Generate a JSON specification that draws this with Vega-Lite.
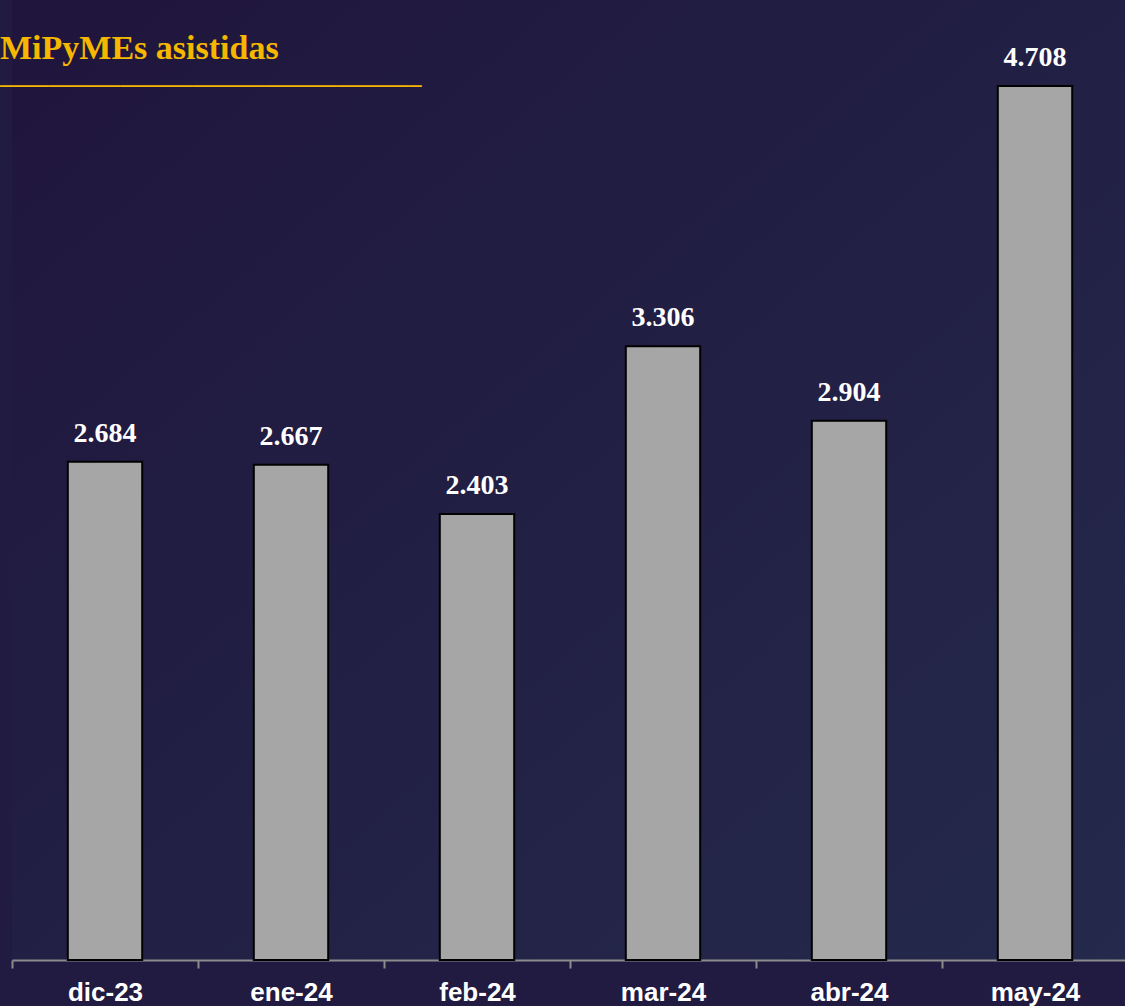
{
  "$schema": "https://vega.github.io/schema/vega-lite/v6.json",
  "width": 1116,
  "height": 960,
  "autosize": {"type": "none"},
  "padding": {"left": 12, "top": 0, "right": 0, "bottom": 46},
  "background": "#211a41",
  "title": {
    "text": "MiPyMEs asistidas",
    "subtitle": "───────────────────────────────────",
    "anchor": "start",
    "frame": "group",
    "dx": -12,
    "offset": -97,
    "font": "Liberation Serif",
    "fontSize": 34,
    "fontWeight": "bold",
    "color": "#f5b700",
    "subtitleColor": "#f5b700",
    "subtitleFont": "DejaVu Sans",
    "subtitleFontSize": 20,
    "subtitlePadding": 11
  },
  "data": {
    "values": [
      {"mes": "dic-23", "valor": 2684},
      {"mes": "ene-24", "valor": 2667},
      {"mes": "feb-24", "valor": 2403},
      {"mes": "mar-24", "valor": 3306},
      {"mes": "abr-24", "valor": 2904},
      {"mes": "may-24", "valor": 4708}
    ]
  },
  "encoding": {
    "x": {
      "field": "mes",
      "type": "nominal",
      "sort": null,
      "scale": {"paddingInner": 0, "paddingOuter": 0},
      "axis": {
        "title": null,
        "labelAngle": 0,
        "labelFont": "Liberation Sans",
        "labelFontWeight": "bold",
        "labelFontSize": 26,
        "labelColor": "white",
        "labelBaseline": "alphabetic",
        "labelPadding": 32,
        "tickSize": 8,
        "tickBand": "extent",
        "tickColor": "#8c8c8c",
        "tickWidth": 2,
        "domainColor": "#8c8c8c",
        "domainWidth": 2,
        "grid": false
      }
    },
    "y": {
      "field": "valor",
      "type": "quantitative",
      "scale": {"domain": [0, 5171]},
      "axis": null
    }
  },
  "layer": [
    {
      "mark": {"type": "bar", "width": {"band": 0.4}, "fill": "#a6a6a6", "stroke": "#000000", "strokeWidth": 2}
    },
    {
      "mark": {"type": "text", "dy": -20, "baseline": "alphabetic", "font": "Liberation Serif", "fontWeight": "bold", "fontSize": 28, "color": "white"},
      "encoding": {"text": {"field": "valor", "type": "quantitative", "format": ",d"}}
    }
  ],
  "config": {
    "view": {
      "stroke": null,
      "fill": {"gradient": "linear", "x1": 0, "y1": 0, "x2": 1, "y2": 1, "stops": [{"offset": 0, "color": "#20153c"}, {"offset": 1, "color": "#242a4c"}]}
    },
    "locale": {"number": {"decimal": ",", "thousands": ".", "grouping": [3], "currency": ["$", ""]}}
  }
}
